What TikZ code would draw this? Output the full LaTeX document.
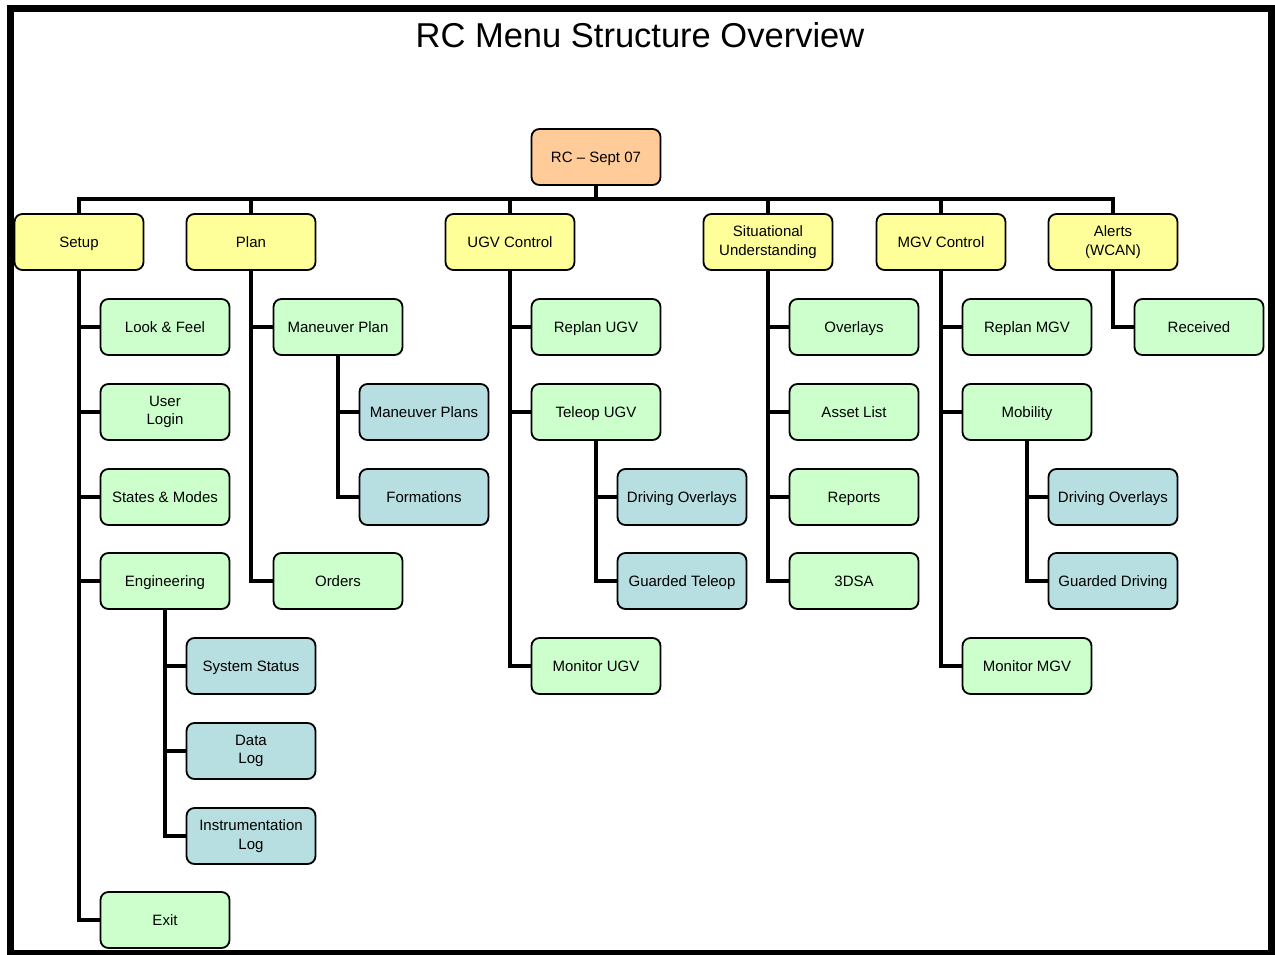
\documentclass[tikz,border=0pt]{standalone}
\usepackage{fontspec}
\setmainfont{Liberation Sans}
\usetikzlibrary{backgrounds}
\definecolor{rootfill}{HTML}{FFCC99}
\definecolor{topfill}{HTML}{FFFF99}
\definecolor{itemfill}{HTML}{CCFFCC}
\definecolor{subfill}{HTML}{B7DEE0}
\begin{document}
\begin{tikzpicture}[x=1pt,y=1pt,
  menubox/.style={draw=black, line width=1.8pt, rounded corners=8pt,
    minimum width=129pt, minimum height=56pt, inner sep=0pt,
    text height=14pt, text depth=2.5pt,
    align=center, font=\fontsize{15}{18.5}\selectfont},
  twoline/.style={text height={}, text depth={}},
  rootbox/.style={menubox, fill=rootfill},
  topbox/.style={menubox, fill=topfill},
  itembox/.style={menubox, fill=itemfill},
  subbox/.style={menubox, fill=subfill},
  link/.style={draw=black, line width=4pt}]
\useasboundingbox (0,0) rectangle (1275,-954);
% outer frame
\draw[line width=7pt] (10.5,-8.5) rectangle (1271,-953);
% title
\node (title) at (640,-35) {\fontsize{34.5}{40}\selectfont RC Menu Structure Overview};

% root and first level
\node[rootbox] (rc) at (596,-157) {RC -- Sept 07};
\node[topbox] (setup) at (79,-242) {Setup};
\node[topbox] (plan) at (251,-242) {Plan};
\node[topbox] (ugv) at (510,-242) {UGV Control};
\node[topbox,twoline] (su) at (768,-242) {Situational\\Understanding};
\node[topbox] (mgv) at (941,-242) {MGV Control};
\node[topbox,twoline] (alerts) at (1113,-242) {Alerts\\(WCAN)};
\coordinate (bus) at (0,-199);

% Setup branch
\node[itembox] (look) at (165,-327) {Look \& Feel};
\node[itembox,twoline] (login) at (165,-412) {User\\Login};
\node[itembox] (states) at (165,-497) {States \& Modes};
\node[itembox] (eng) at (165,-581) {Engineering};
\node[itembox] (exit) at (165,-920) {Exit};
\node[subbox] (sysstat) at (251,-666) {System Status};
\node[subbox,twoline] (datalog) at (251,-751) {Data\\Log};
\node[subbox,twoline] (instlog) at (251,-836) {Instrumentation\\Log};

% Plan branch
\node[itembox] (mplan) at (338,-327) {Maneuver Plan};
\node[itembox] (orders) at (338,-581) {Orders};
\node[subbox] (mplans) at (424,-412) {Maneuver Plans};
\node[subbox] (form) at (424,-497) {Formations};

% UGV Control branch
\node[itembox] (replanugv) at (596,-327) {Replan UGV};
\node[itembox] (teleop) at (596,-412) {Teleop UGV};
\node[itembox] (monugv) at (596,-666) {Monitor UGV};
\node[subbox] (drvov1) at (682,-497) {Driving Overlays};
\node[subbox] (guardtel) at (682,-581) {Guarded Teleop};

% Situational Understanding branch
\node[itembox] (overlays) at (854,-327) {Overlays};
\node[itembox] (asset) at (854,-412) {Asset List};
\node[itembox] (reports) at (854,-497) {Reports};
\node[itembox] (dsa) at (854,-581) {3DSA};

% MGV Control branch
\node[itembox] (replanmgv) at (1027,-327) {Replan MGV};
\node[itembox] (mobility) at (1027,-412) {Mobility};
\node[itembox] (monmgv) at (1027,-666) {Monitor MGV};
\node[subbox] (drvov2) at (1113,-497) {Driving Overlays};
\node[subbox] (guarddrv) at (1113,-581) {Guarded Driving};

% Alerts branch
\node[itembox] (received) at (1199,-327) {Received};

% connectors, drawn behind the boxes
\begin{pgfonlayer}{background}
\foreach \t in {setup,plan,ugv,su,mgv,alerts}
  \draw[link] (rc.south) -- (rc.south |- bus) -| (\t.north);
\foreach \p/\c in {setup/look,setup/login,setup/states,setup/eng,setup/exit,
                   eng/sysstat,eng/datalog,eng/instlog,
                   plan/mplan,plan/orders,mplan/mplans,mplan/form,
                   ugv/replanugv,ugv/teleop,ugv/monugv,teleop/drvov1,teleop/guardtel,
                   su/overlays,su/asset,su/reports,su/dsa,
                   mgv/replanmgv,mgv/mobility,mgv/monmgv,mobility/drvov2,mobility/guarddrv,
                   alerts/received}
  \draw[link] (\p.south) |- (\c.west);
\end{pgfonlayer}
\end{tikzpicture}
\end{document}
